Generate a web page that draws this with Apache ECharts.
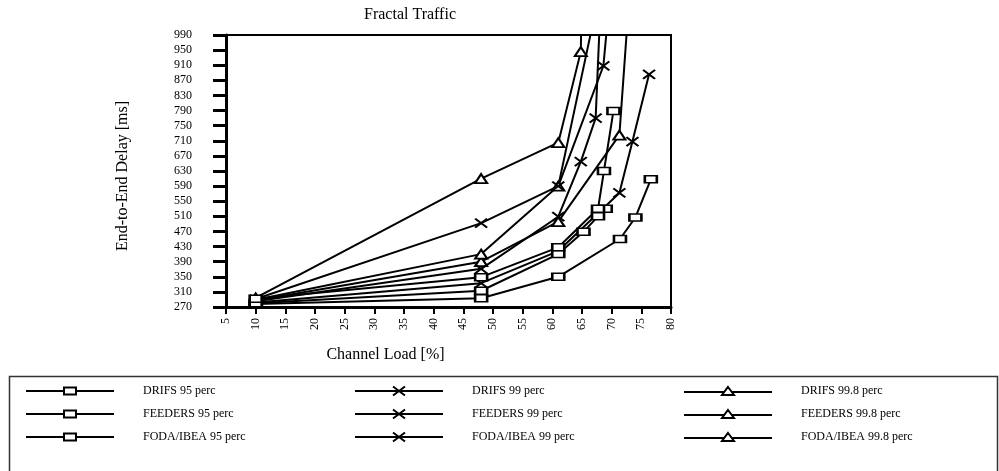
<!DOCTYPE html>
<html>
<head>
<meta charset="utf-8">
<script src="https://cdn.jsdelivr.net/npm/echarts@6/dist/echarts.min.js"></script>
<style>
  html, body { margin: 0; padding: 0; background: #fff; }
  #chart { width: 999px; height: 471px; }
</style>
</head>
<body>
<div id="chart"></div>
<script>
// Channel load [%] vs end-to-end delay [ms]; points above 990 run off the top of the plot.
const drifs95    = [[10, 278], [48, 293], [61, 350], [71.4, 450], [74, 507], [76.6, 608]];
const feeders95  = [[10, 280], [48, 313], [61, 410], [65.25, 469], [67.7, 510], [69, 530]];
const foda95     = [[10, 292], [48, 349], [61, 428], [67.7, 530], [68.7, 630], [70.3, 789]];

const drifs99    = [[10, 282], [48, 333], [61, 418], [71.3, 572], [73.5, 708], [76.3, 886]];
const feeders99  = [[10, 285], [48, 371], [61, 509], [64.8, 655], [67.3, 770], [68.2, 1100]];
const foda99     = [[10, 291], [48, 492], [61, 590], [68.6, 908], [69.5, 1060]];

const drifs998   = [[10, 287], [48, 390], [61, 496], [71.3, 725], [73.0, 1100]];
const feeders998 = [[10, 289], [48, 410], [61, 590], [67.5, 1070]];
const foda998    = [[10, 294], [48, 610], [61, 705], [64.8, 946], [65.0, 1150]];

const xTicks = { min: 5, max: 80, step: 5 };
const yTicks = { min: 270, max: 990, step: 40 };

const FONT = 'Liberation Serif';
const CROSS = 'path://M0,0L12,9M12,0L0,9';

const markers = {
  square: {
    symbol: 'rect', symbolSize: [12, 7], fill: '#fff',
    icon: 'path://M0,3.5L38,3.5M50,3.5L88,3.5M38,0L50,0L50,7L38,7Z', iconHeight: 7
  },
  cross: {
    symbol: CROSS, symbolSize: [12, 9], fill: 'none',
    icon: 'path://M0,4.5L88,4.5M38,0L50,9M50,0L38,9', iconHeight: 9
  },
  triangle: {
    symbol: 'triangle', symbolSize: [12, 9], fill: '#fff',
    icon: 'path://M0,5L40.3,5M47.7,5L88,5M44,0L50,8L38,8Z', iconHeight: 8
  }
};

function line(name, data, kind) {
  const m = markers[kind];
  return {
    name: name,
    type: 'line',
    data: data,
    clip: true,
    symbol: m.symbol,
    symbolSize: m.symbolSize,
    showAllSymbol: true,
    lineStyle: { color: '#000', width: 2 },
    itemStyle: { color: m.fill, borderColor: '#000', borderWidth: 2 },
    emphasis: { disabled: true },
    z: kind === 'square' ? 4 : 3
  };
}

const series = [
  line('DRIFS 99.8 perc', drifs998, 'triangle'),
  line('FEEDERS 99.8 perc', feeders998, 'triangle'),
  line('FODA/IBEA 99.8 perc', foda998, 'triangle'),
  line('DRIFS 99 perc', drifs99, 'cross'),
  line('FEEDERS 99 perc', feeders99, 'cross'),
  line('FODA/IBEA 99 perc', foda99, 'cross'),
  line('DRIFS 95 perc', drifs95, 'square'),
  line('FEEDERS 95 perc', feeders95, 'square'),
  line('FODA/IBEA 95 perc', foda95, 'square')
];

// One legend column per marker kind, rows aligned across columns.
function legendColumn(left, names, kind) {
  const m = markers[kind];
  return {
    orient: 'vertical',
    left: left,
    top: 384,
    padding: 0,
    itemWidth: 88,
    itemHeight: m.iconHeight,
    itemGap: 9,
    selectedMode: false,
    data: names.map(function (n) {
      return {
        name: n,
        icon: m.icon,
        itemStyle: { color: m.fill === 'none' ? '#000' : m.fill, borderColor: '#000', borderWidth: 2 }
      };
    }),
    textStyle: { fontFamily: FONT, fontSize: 12, lineHeight: 14, color: '#000', padding: [0, 0, 0, 24] }
  };
}

const chart = echarts.init(document.getElementById('chart'));
chart.setOption({
  animation: false,
  backgroundColor: '#fff',
  title: {
    text: 'Fractal Traffic',
    left: 359,
    top: 2,
    textStyle: { fontFamily: FONT, fontSize: 16, fontWeight: 'normal', color: '#000' }
  },
  grid: {
    left: 226, right: 328, top: 35, bottom: 164,
    show: true, borderColor: '#000', borderWidth: 2, backgroundColor: 'transparent'
  },
  xAxis: {
    type: 'value',
    min: xTicks.min, max: xTicks.max, interval: xTicks.step,
    name: 'Channel Load [%]',
    nameLocation: 'middle',
    nameGap: 40,
    nameTextStyle: { fontFamily: FONT, fontSize: 16, color: '#000', padding: [0, 126, 0, 0] },
    axisLine: { show: true, onZero: false, lineStyle: { color: '#000', width: 3 } },
    axisTick: { show: true, length: 7, lineStyle: { color: '#000', width: 2 } },
    axisLabel: { rotate: 90, margin: 11, fontFamily: FONT, fontSize: 12, color: '#000' },
    splitLine: { show: false }
  },
  yAxis: {
    type: 'value',
    min: yTicks.min, max: yTicks.max, interval: yTicks.step,
    name: 'End-to-End Delay [ms]',
    nameLocation: 'middle',
    nameGap: 95,
    nameTextStyle: { fontFamily: FONT, fontSize: 16, color: '#000', padding: [0, 10, 0, 0] },
    axisLine: { show: true, onZero: false, lineStyle: { color: '#000', width: 3 } },
    axisTick: { show: true, length: 13, lineStyle: { color: '#000', width: 3 } },
    axisLabel: { margin: 34, fontFamily: FONT, fontSize: 12, color: '#000' },
    splitLine: { show: false }
  },
  legend: [
    legendColumn(25, ['DRIFS 95 perc', 'FEEDERS 95 perc', 'FODA/IBEA 95 perc'], 'square'),
    legendColumn(354, ['DRIFS 99 perc', 'FEEDERS 99 perc', 'FODA/IBEA 99 perc'], 'cross'),
    legendColumn(683, ['DRIFS 99.8 perc', 'FEEDERS 99.8 perc', 'FODA/IBEA 99.8 perc'], 'triangle')
  ],
  graphic: [{
    type: 'rect',
    shape: { x: 9.5, y: 376.5, width: 988, height: 120 },
    style: { fill: 'none', stroke: '#333', lineWidth: 1.5 },
    silent: true
  }],
  series: series
});
</script>
</body>
</html>
